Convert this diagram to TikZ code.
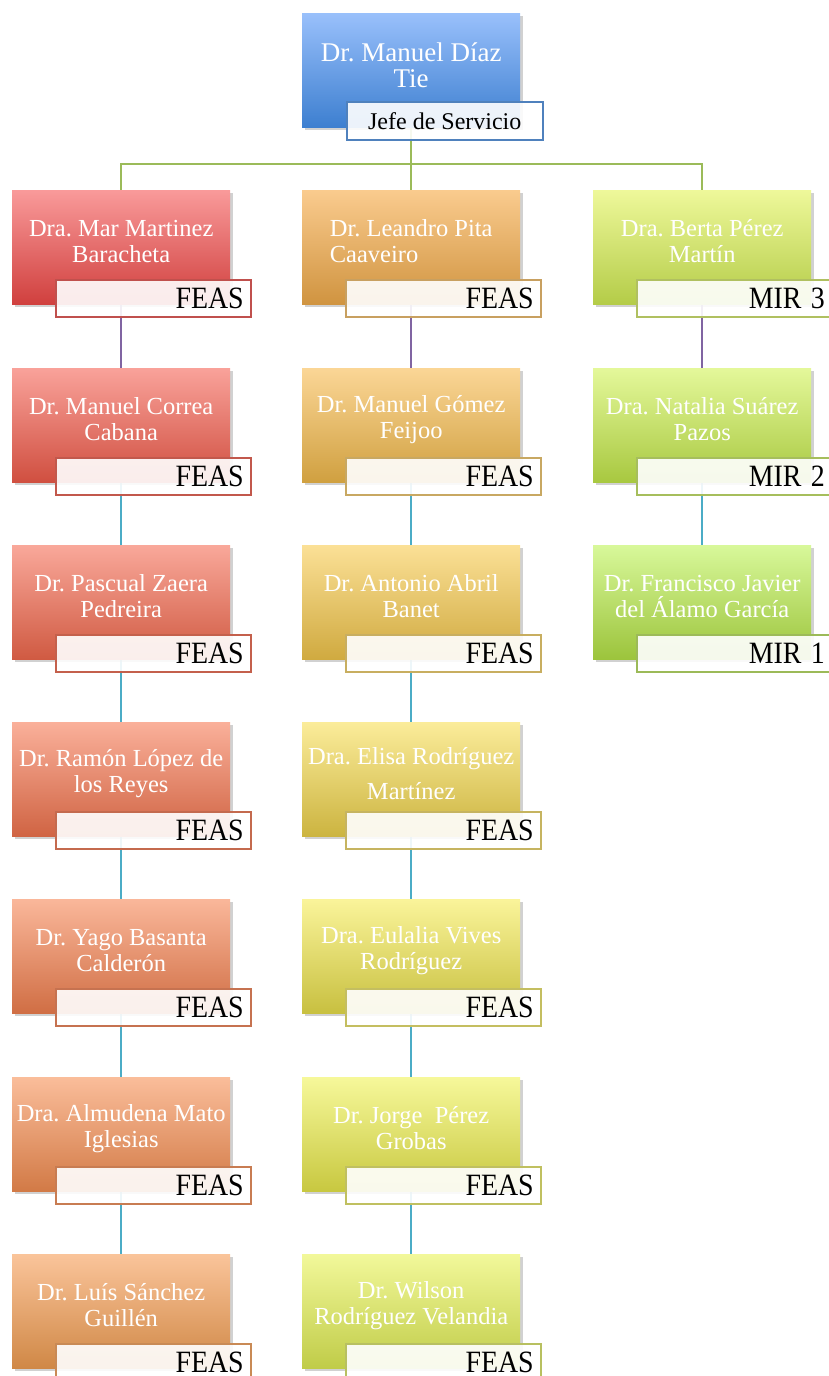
\documentclass[tikz,border=0pt]{standalone}
\usepackage{fontspec}
\setmainfont{Liberation Serif}
\frenchspacing
\usetikzlibrary{shadows,backgrounds,calc,positioning}
\definecolor{busgreen}{HTML}{9BBB59}
\definecolor{linkpurple}{HTML}{8064A2}
\definecolor{linkteal}{HTML}{4BACC6}
\tikzset{
  mainbox/.style={rectangle, anchor=north west, minimum width=218pt, minimum height=114pt,
    inner sep=0pt, drop shadow={shadow xshift=2.5pt, shadow yshift=-3pt, opacity=0.3, fill=black!60}},
  nametext/.style={text=white, align=center, inner sep=0pt,
    font=\fontsize{24.5}{26}\selectfont},
  rolebox/.style={rectangle, anchor=north west, minimum width=195pt, minimum height=37pt,
    text width=181pt, inner xsep=7pt, inner ysep=0pt, align=right, line width=1.5pt,
    fill=white, fill opacity=0.9, text opacity=1, font=\fontsize{31}{31}\selectfont},
  conn/.style={line width=2pt},
}
\newcommand\narrow[1]{\scalebox{0.9}[1]{#1}}
% #1 name, #2 x, #3 y, #4 top colour, #5 bottom colour, #6 border, #7 text, #8 role, #9 align
\newcommand\orgbox[9]{%
  \node[mainbox, top color=#4, bottom color=#5] (#1) at (#2,#3) {};
  \node[nametext, align=#9] (#1t) at ([yshift=6pt]#1.center) {#7};
  \node[rolebox, draw=#6] (#1l) at ($(#1.north west)+(43,89)$) {\narrow{#8}};
}
\begin{document}
\begin{tikzpicture}[x=1pt,y=-1pt]
\useasboundingbox (0,0) rectangle (829,1376);
% top
\node[mainbox, top color={rgb,255:red,153;green,192;blue,251}, bottom color={rgb,255:red,61;green,127;blue,208}] (top) at (302,13) {};
\node[nametext, font=\fontsize{27}{26}\selectfont] (topt) at ([yshift=5pt]top.center) {Dr. Manuel Díaz\\Tie};
\node[rectangle, anchor=north west, minimum width=196pt, minimum height=38pt, inner sep=0pt,
  draw={rgb,255:red,79;green,129;blue,189}, line width=1.5pt, fill=white, fill opacity=0.9, text opacity=1,
  font=\fontsize{24}{24}\selectfont] (topl) at ($(top.north west)+(44,88)$) {Jefe de Servicio};

% column 1
\orgbox{a1}{12}{190}{{rgb,255:red,249;green,154;blue,154}}{{rgb,255:red,208;green,64;blue,62}}{{rgb,255:red,192;green,80;blue,77}}{Dra. Mar Martinez\\Baracheta}{FEAS}{center}
\orgbox{a2}{12}{368}{{rgb,255:red,249;green,162;blue,154}}{{rgb,255:red,208;green,79;blue,64}}{{rgb,255:red,194;green,88;blue,76}}{Dr. Manuel Correa\\Cabana}{FEAS}{center}
\orgbox{a3}{12}{545}{{rgb,255:red,249;green,168;blue,154}}{{rgb,255:red,208;green,90;blue,66}}{{rgb,255:red,196;green,96;blue,76}}{Dr. Pascual Zaera\\Pedreira}{FEAS}{center}
\orgbox{a4}{12}{722}{{rgb,255:red,250;green,176;blue,154}}{{rgb,255:red,208;green,100;blue,67}}{{rgb,255:red,196;green,106;blue,78}}{Dr. Ramón López de\\los Reyes}{FEAS}{center}
\orgbox{a5}{12}{899}{{rgb,255:red,250;green,183;blue,154}}{{rgb,255:red,208;green,110;blue,68}}{{rgb,255:red,198;green,114;blue,80}}{Dr. Yago Basanta\\Calderón}{FEAS}{center}
\orgbox{a6}{12}{1077}{{rgb,255:red,250;green,189;blue,154}}{{rgb,255:red,210;green,122;blue,70}}{{rgb,255:red,200;green,124;blue,82}}{Dra. Almudena Mato\\Iglesias}{FEAS}{center}
\orgbox{a7}{12}{1254}{{rgb,255:red,250;green,196;blue,154}}{{rgb,255:red,208;green,136;blue,70}}{{rgb,255:red,201;green,138;blue,85}}{Dr. Luís Sánchez\\Guillén}{FEAS}{center}

% column 2
\orgbox{b1}{302}{190}{{rgb,255:red,250;green,203;blue,142}}{{rgb,255:red,208;green,148;blue,64}}{{rgb,255:red,200;green,160;blue,96}}{Dr. Leandro Pita\\Caaveiro}{FEAS}{left}
\orgbox{b2}{302}{368}{{rgb,255:red,251;green,214;blue,150}}{{rgb,255:red,208;green,160;blue,64}}{{rgb,255:red,200;green,168;blue,98}}{Dr. Manuel Gómez\\Feijoo}{FEAS}{center}
\orgbox{b3}{302}{545}{{rgb,255:red,251;green,224;blue,150}}{{rgb,255:red,208;green,170;blue,64}}{{rgb,255:red,200;green,174;blue,96}}{Dr. Antonio Abril\\Banet}{FEAS}{center}
\orgbox{b4}{302}{722}{{rgb,255:red,251;green,236;blue,154}}{{rgb,255:red,204;green,180;blue,64}}{{rgb,255:red,198;green,180;blue,96}}{Dra. Elisa Rodríguez\\[9pt]Martínez}{FEAS}{center}
\orgbox{b5}{302}{899}{{rgb,255:red,250;green,244;blue,154}}{{rgb,255:red,200;green,192;blue,64}}{{rgb,255:red,196;green,190;blue,96}}{Dra. Eulalia Vives\\Rodríguez}{FEAS}{center}
\orgbox{b6}{302}{1077}{{rgb,255:red,246;green,248;blue,154}}{{rgb,255:red,200;green,200;blue,64}}{{rgb,255:red,192;green,192;blue,96}}{Dr. Jorge~ Pérez\\Grobas}{FEAS}{center}
\orgbox{b7}{302}{1254}{{rgb,255:red,242;green,248;blue,154}}{{rgb,255:red,192;green,204;blue,72}}{{rgb,255:red,184;green,192;blue,96}}{Dr. Wilson\\Rodríguez Velandia}{FEAS}{center}

% column 3
\orgbox{c1}{593}{190}{{rgb,255:red,238;green,248;blue,154}}{{rgb,255:red,180;green,204;blue,72}}{{rgb,255:red,176;green,192;blue,96}}{Dra. Berta Pérez\\Martín}{MIR 3}{center}
\orgbox{c2}{593}{368}{{rgb,255:red,228;green,248;blue,154}}{{rgb,255:red,168;green,200;blue,64}}{{rgb,255:red,166;green,190;blue,92}}{Dra. Natalia Suárez\\Pazos}{MIR 2}{center}
\orgbox{c3}{593}{545}{{rgb,255:red,216;green,248;blue,154}}{{rgb,255:red,156;green,196;blue,60}}{{rgb,255:red,156;green,186;blue,88}}{Dr. Francisco Javier\\del Álamo García}{MIR 1}{center}

% connectors
\begin{scope}[on background layer]
  \coordinate (bus) at (411,164);
  \draw[conn, busgreen] (top.south) -- (b1.north);
  \draw[conn, busgreen] (a1.north) -- (a1.north |- bus) -- (c1.north |- bus) -- (c1.north);
  \draw[conn, linkpurple] (a1.south) -- (a2.north);
  \draw[conn, linkpurple] (b1.south) -- (b2.north);
  \draw[conn, linkpurple] (c1.south) -- (c2.north);
  \draw[conn, linkteal] (a2.south) -- (a3.north);
  \draw[conn, linkteal] (a3.south) -- (a4.north);
  \draw[conn, linkteal] (a4.south) -- (a5.north);
  \draw[conn, linkteal] (a5.south) -- (a6.north);
  \draw[conn, linkteal] (a6.south) -- (a7.north);
  \draw[conn, linkteal] (b2.south) -- (b3.north);
  \draw[conn, linkteal] (b3.south) -- (b4.north);
  \draw[conn, linkteal] (b4.south) -- (b5.north);
  \draw[conn, linkteal] (b5.south) -- (b6.north);
  \draw[conn, linkteal] (b6.south) -- (b7.north);
  \draw[conn, linkteal] (c2.south) -- (c3.north);
\end{scope}
\end{tikzpicture}
\end{document}
